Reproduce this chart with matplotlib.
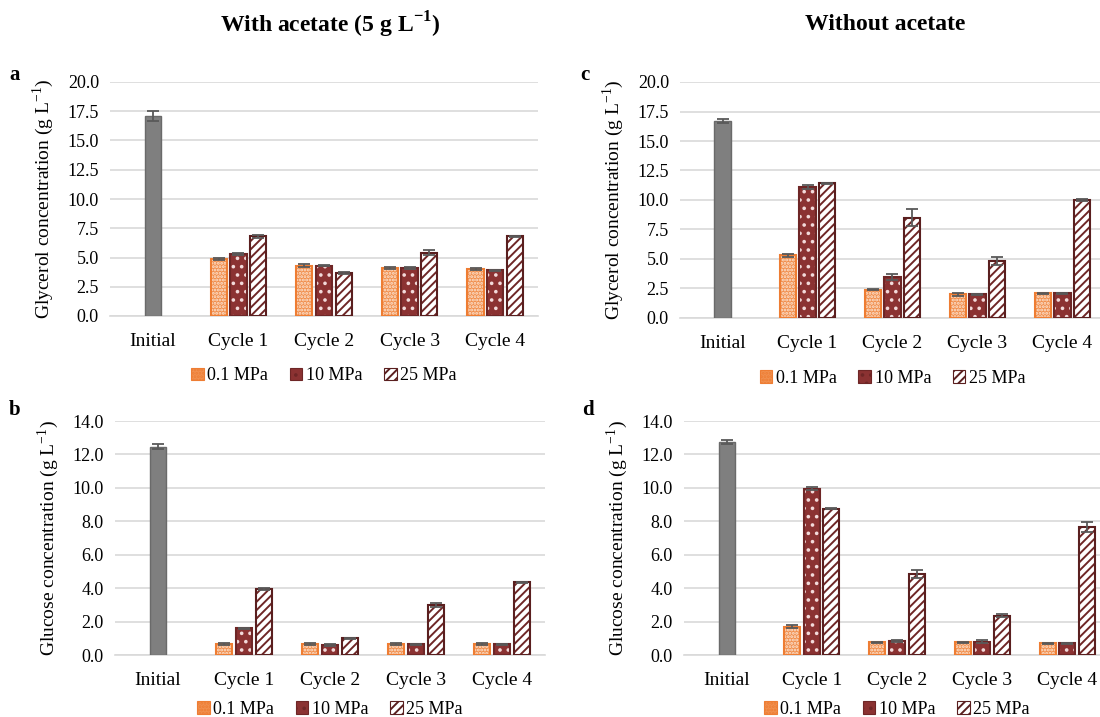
import matplotlib
matplotlib.use("Agg")
import matplotlib.pyplot as plt
from matplotlib.patches import Patch
import numpy as np

plt.rcParams['font.family'] = 'Liberation Serif'
plt.rcParams['mathtext.fontset'] = 'custom'
plt.rcParams['mathtext.rm'] = 'Liberation Serif'
plt.rcParams['mathtext.bf'] = 'Liberation Serif:bold'
plt.rcParams['hatch.linewidth'] = 1.4

categories = ["Initial", "Cycle 1", "Cycle 2", "Cycle 3", "Cycle 4"]
series = ["0.1 MPa", "10 MPa", "25 MPa"]

# panel a - glycerol, with acetate
a_initial, a_initial_err = 17.1, 0.4
a_vals = [[4.9, 4.3, 4.1, 4.0],
          [5.3, 4.3, 4.1, 3.9],
          [6.8, 3.7, 5.4, 6.8]]
a_errs = [[0.1, 0.15, 0.05, 0.1],
          [0.05, 0.05, 0.05, 0.05],
          [0.15, 0.1, 0.2, 0.05]]

# panel c - glycerol, without acetate
c_initial, c_initial_err = 16.7, 0.15
c_vals = [[5.3, 2.4, 2.0, 2.1],
          [11.1, 3.5, 2.0, 2.1],
          [11.4, 8.5, 4.8, 10.0]]
c_errs = [[0.15, 0.05, 0.15, 0.05],
          [0.15, 0.25, 0.05, 0.05],
          [0.05, 0.7, 0.35, 0.1]]

# panel b - glucose, with acetate
b_initial, b_initial_err = 12.45, 0.15
b_vals = [[0.65, 0.65, 0.65, 0.65],
          [1.6, 0.6, 0.65, 0.65],
          [3.95, 1.0, 3.0, 4.35]]
b_errs = [[0.05, 0.05, 0.05, 0.05],
          [0.03, 0.05, 0.03, 0.03],
          [0.08, 0.03, 0.1, 0.03]]

# panel d - glucose, without acetate
d_initial, d_initial_err = 12.75, 0.12
d_vals = [[1.7, 0.75, 0.75, 0.7],
          [9.95, 0.85, 0.8, 0.7],
          [8.75, 4.85, 2.35, 7.65]]
d_errs = [[0.1, 0.05, 0.05, 0.03],
          [0.1, 0.05, 0.08, 0.03],
          [0.03, 0.25, 0.1, 0.3]]

orange = '#EE7D33'
darkred = '#8B3232'
errcol = '#595959'

styles = [
    dict(fc='#F1904F', hc='#FCE3D2', hatch='.....', ec=orange),
    dict(fc=darkred, hc='#F2DADA', hatch='..', ec='#6E2626'),
    dict(fc='white', hc='#6E2626', hatch='////', ec='#5A1F1F'),
]


def draw(ax, initial, initial_err, vals, errs, ymax, step, ylabel, legend_y):
    x = np.arange(len(categories))
    w = 0.19
    off = 0.23
    ax.bar(x[0], initial, w, color='#7F7F7F', edgecolor='#6A6A6A', linewidth=1, zorder=3)
    ax.errorbar(x[0], initial, yerr=initial_err, fmt='none', ecolor=errcol,
                capsize=4, elinewidth=1.3, capthick=1.3, zorder=5)
    for i in range(3):
        st = styles[i]
        xs = x[1:] + (i - 1) * off
        ax.bar(xs, vals[i], w, color=st['fc'], edgecolor=st['hc'], hatch=st['hatch'],
               linewidth=0, zorder=3)
        ax.bar(xs, vals[i], w, fill=False, edgecolor=st['ec'], linewidth=1.5, zorder=4)
        ax.errorbar(xs, vals[i], yerr=errs[i], fmt='none', ecolor=errcol,
                    capsize=4, elinewidth=1.3, capthick=1.3, zorder=5)
    ax.set_xlim(-0.5, len(categories) - 0.5)
    ax.set_ylim(0, ymax)
    ticks = np.arange(0, ymax + step / 2, step)
    ax.set_yticks(ticks)
    ax.set_yticklabels([f"{t:.1f}" for t in ticks], fontsize=13)
    ax.set_xticks(x)
    ax.set_xticklabels(categories, fontsize=14)
    ax.tick_params(length=0, pad=8)
    ax.tick_params(axis='x', pad=12)
    for s in ['top', 'right', 'left']:
        ax.spines[s].set_visible(False)
    ax.spines['bottom'].set_color('#D9D9D9')
    ax.spines['bottom'].set_linewidth(1.2)
    ax.yaxis.grid(True, color='#D9D9D9', linewidth=1.2, zorder=0)
    ax.set_axisbelow(True)
    ax.set_ylabel(ylabel, fontsize=14, labelpad=8)

    handles = [Patch(facecolor=st['fc'], edgecolor=st['ec'], hatch=st['hatch'], linewidth=0.8)
               for st in styles]
    ax.legend(handles, series, loc='upper center', bbox_to_anchor=(0.5, legend_y), ncol=3,
              frameon=False, fontsize=13, handlelength=0.7, handleheight=0.7,
              handletextpad=0.2, columnspacing=1.2)


fig = plt.figure(figsize=(11, 7.17), dpi=100)
H = 717.0
W = 1100.0


def box(l, r, t, b):
    return [l / W, 1 - b / H, (r - l) / W, (b - t) / H]


ax_a = fig.add_axes(box(110, 538, 82, 316))
ax_c = fig.add_axes(box(680, 1105, 82, 318))
ax_b = fig.add_axes(box(115, 545, 421, 655))
ax_d = fig.add_axes(box(684, 1110, 421, 655))

gly = r'Glycerol concentration (g L$^{-1}$)'
glu = r'Glucose concentration (g L$^{-1}$)'
draw(ax_a, a_initial, a_initial_err, a_vals, a_errs, 20, 2.5, gly, -0.15)
draw(ax_c, c_initial, c_initial_err, c_vals, c_errs, 20, 2.5, gly, -0.15)
draw(ax_b, b_initial, b_initial_err, b_vals, b_errs, 14, 2.0, glu, -0.125)
draw(ax_d, d_initial, d_initial_err, d_vals, d_errs, 14, 2.0, glu, -0.125)

fig.text(330 / W, 1 - 25 / H, r'With acetate (5 g L$^{\mathbf{-1}}$)', ha='center', va='center',
         fontsize=17, fontweight='bold')
fig.text(885 / W, 1 - 25 / H, 'Without acetate', ha='center', va='center',
         fontsize=17, fontweight='bold')
for lbl, xp, yp in [('a', 15, 75), ('c', 585, 75), ('b', 15, 410), ('d', 588, 410)]:
    fig.text(xp / W, 1 - yp / H, lbl, ha='center', va='center', fontsize=15, fontweight='bold')

fig.savefig('out.png', dpi=100, facecolor='white')
